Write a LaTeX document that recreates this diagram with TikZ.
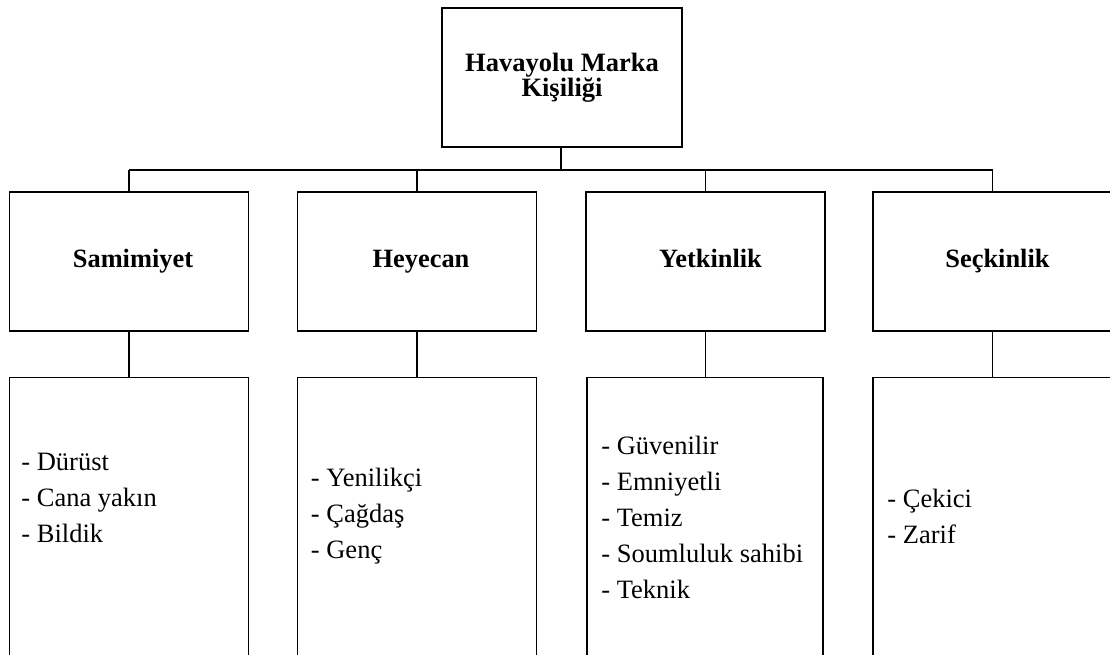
\documentclass[tikz,border=0pt]{standalone}
\usepackage{fontspec}
\setmainfont{Liberation Serif}
\begin{document}
\begin{tikzpicture}[x=1pt,y=-1pt,
  box/.style={draw=black,line width=1.6pt,fill=white,inner sep=0pt,minimum width=239pt},
  headbox/.style={box,minimum width=240pt,minimum height=139pt,align=center,
    font=\fontsize{26.5}{25}\selectfont\bfseries},
  catbox/.style={box,minimum height=139pt,text height=18pt,text depth=6pt,
    font=\fontsize{26.4}{30}\selectfont\bfseries},
  listbox/.style={box,minimum height=283pt},
  items/.style={inner sep=0pt,anchor=west,align=left,font=\fontsize{26.5}{36}\selectfont},
  link/.style={line width=1.6pt}]
\useasboundingbox (0,0) rectangle (1110,654);
\clip (0,0) rectangle (1110,654);
\fill[white] (0,0) rectangle (1110,654);

% root
\node[headbox] (root) at (562,77.5) {Havayolu Marka\\Kişiliği};

% dimensions
\node[catbox] (c1) at (129,261.5) {\hspace*{8pt}Samimiyet};
\node[catbox] (c2) at (417,261.5) {\hspace*{8pt}Heyecan};
\node[catbox] (c3) at (705.5,261.5) {\hspace*{10pt}Yetkinlik};
\node[catbox] (c4) at (992.5,261.5) {\hspace*{10pt}Seçkinlik};

% trait lists
\node[listbox] (l1) at (129,519) {};
\node[listbox] (l2) at (417,519) {};
\node[listbox,minimum width=236pt] (l3) at (705,519) {};
\node[listbox] (l4) at (992.5,519) {};

\node[items] (t1) at ([xshift=12.5pt]l1.west |- 0,497.5) {- Dürüst\\- Cana yakın\\- Bildik};
\node[items] (t2) at ([xshift=14pt]l2.west |- 0,516) {- Yenilikçi\\- Çağdaş\\- Genç};
\node[items] (t3) at ([xshift=15pt]l3.west |- 0,517) {- Güvenilir\\- Emniyetli\\- Temiz\\- Soumluluk sahibi\\- Teknik};
\node[items] (t4) at ([xshift=15pt]l4.west |- 0,516) {- Çekici\\- Zarif};

% connectors
\coordinate (bus) at (561,170);
\draw[link] (root.south -| bus) -- (bus);
\draw[link] (c1.north |- bus) -- (c4.north |- bus);
\foreach \i in {1,2,3,4} {
  \draw[link] (c\i.north |- bus) -- (c\i.north);
  \draw[link] (c\i.south) -- (l\i.north -| c\i.south);
}
\end{tikzpicture}
\end{document}
